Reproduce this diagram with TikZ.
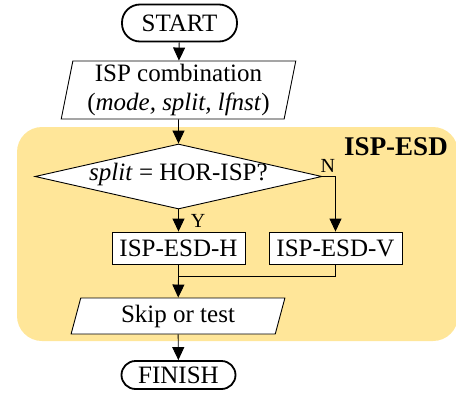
\documentclass[tikz,border=0pt]{standalone}
\usepackage{fontspec}
\setmainfont{Liberation Serif}
\usetikzlibrary{shapes.geometric,arrows.meta,positioning}
\definecolor{esdyellow}{HTML}{FFE699}
\tikzset{
  txt/.style={font=\fontsize{25}{29}\selectfont, inner sep=0pt},
  terminal/.style={txt, draw, line width=1.8pt, rectangle},
  iobox/.style={txt, draw, line width=0.9pt, trapezium, trapezium stretches=true, align=center},
  procbox/.style={txt, draw, line width=0.9pt, fill=white, minimum width=133, minimum height=32},
  arr/.style={line width=0.9pt, -{Triangle[width=12pt,length=13pt]}},
  yn/.style={font=\fontsize{20}{24}\selectfont, inner sep=0pt}
}
\begin{document}
\begin{tikzpicture}[x=1pt,y=-1pt]
    \useasboundingbox (0,0) rectangle (456,397);

    % ISP-ESD region
    \node[fill=esdyellow, rounded corners=25pt, minimum width=441, minimum height=214, inner sep=0pt] (esd) at (237.5,234) {};
    \node[font=\fontsize{27}{30}\selectfont\bfseries, inner sep=0pt, anchor=base] (esdlab) at (396,155) {ISP-ESD};

    % flow
    \node[terminal, rounded corners=18pt, minimum width=115, minimum height=37] (start) at (179.5,23) {START};
    \node[iobox, trapezium left angle=79, trapezium right angle=101, minimum width=235, minimum height=58, fill=white] (isp) at (178.5,90) {ISP combination\\(\textit{mode, split, lfnst})};
    \node[txt, draw, line width=0.9pt, fill=white, diamond, aspect=4.4, text height=12pt, text depth=4pt, minimum width=287, minimum height=65] (dec) at (178.5,176.5) {\textit{split} = HOR-ISP?};
    \node[procbox] (hbox) at (178.5,248) {ISP-ESD-H};
    \node[procbox] (vbox) at (335.5,248) {ISP-ESD-V};
    \coordinate (merge) at (178.5,276);
    \node[iobox, trapezium left angle=76, trapezium right angle=104, minimum width=214, minimum height=36, fill=white] (skip) at (178,316) {Skip or test};
    \node[terminal, rounded corners=14pt, minimum width=114, minimum height=28] (finish) at (178.5,375) {FINISH};

    \draw[arr] (start) -- (isp);
    \draw[arr] (isp) -- (dec);
    \draw[arr] (dec) -- (hbox) node[yn, midway, right, xshift=12pt] (ylab) {Y};
    \draw[arr] (dec.east) -| (vbox.north);
    \node[yn, above right=4pt and -2pt of dec.east] (nlab) {N};
    \draw[line width=0.9pt] (hbox) -- (merge);
    \draw[line width=0.9pt] (vbox) |- (merge);
    \draw[arr] (merge) -- (skip);
    \draw[arr] (skip) -- (finish);
\end{tikzpicture}
\end{document}
